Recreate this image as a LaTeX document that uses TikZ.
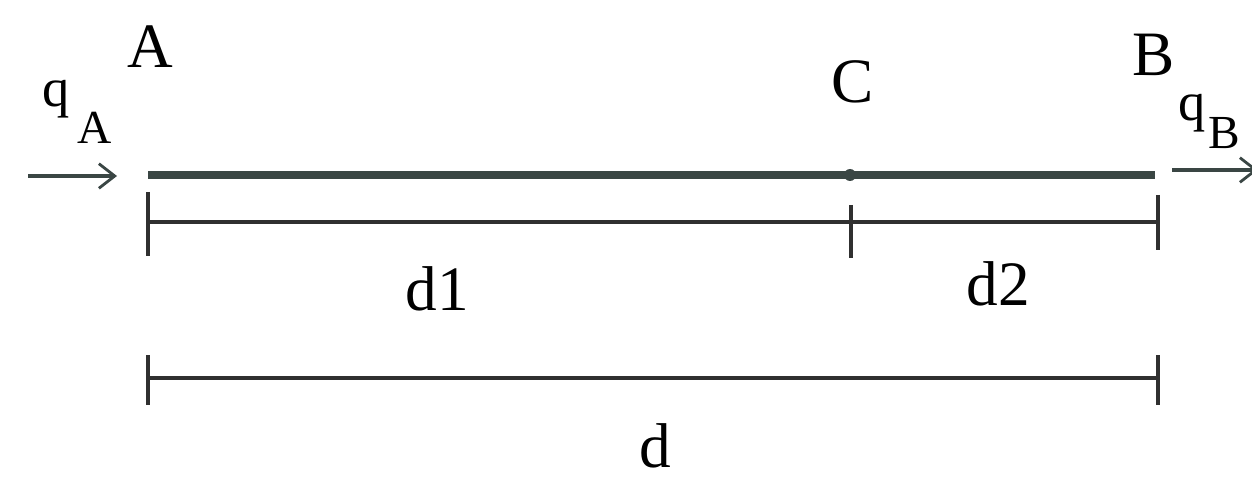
\documentclass[tikz,border=0pt]{standalone}
\usetikzlibrary{arrows.meta}
\usepackage{fontspec}
\setmainfont{Liberation Serif}
\definecolor{barcol}{HTML}{3A4644}
\definecolor{linecol}{HTML}{303030}
\begin{document}
\begin{tikzpicture}[x=0.02cm,y=-0.02cm,
  lbl/.style={font=\fontsize{36}{40}\selectfont, inner sep=0pt},
  qlbl/.style={font=\fontsize{31}{35}\selectfont, inner sep=0pt},
  sublbl/.style={font=\fontsize{27}{31}\selectfont, inner sep=0pt},
  bar/.style={line width=5pt, color=barcol},
  dim/.style={line width=1.8pt, color=linecol},
  tick/.style={line width=1.8pt, color=linecol},
  flow/.style={line width=1.8pt, color=barcol, -{Straight Barb[length=9pt,width=14pt,line width=1.6pt]}}]
\useasboundingbox (0,0) rectangle (1252,483);
% main bar
\coordinate (pA) at (148,175);
\coordinate (pC) at (850,175);
\coordinate (pB) at (1155,175);
\draw[bar] (pA) -- (pB);
\fill[barcol] (pC) circle (6);
% labels
\node[lbl] (A) at (150,47) {A};
\node[lbl] (C) at (853,82) {C};
\node[lbl] (B) at (1154,55) {B};
% flows
\coordinate (inS) at (28,176);
\coordinate (inE) at (117,176);
\draw[flow] (inS) -- (inE);
\node[qlbl] (qA) at (56,99) {q};
\node[sublbl] (qAs) at (95,128) {A};
\coordinate (outS) at (1172,170);
\coordinate (outE) at (1258,170);
\draw[flow] (outS) -- (outE);
\node[qlbl] (qB) at (1192,113) {q};
\node[sublbl] (qBs) at (1224,133) {B};
% dimension 1
\coordinate (t1a) at (148,192); \coordinate (t1b) at (148,256);
\coordinate (t2a) at (851,205); \coordinate (t2b) at (851,258);
\coordinate (t3a) at (1158,195); \coordinate (t3b) at (1158,250);
\coordinate (d1s) at (148,222); \coordinate (d1e) at (1158,222);
\draw[tick] (t1a) -- (t1b);
\draw[tick] (t2a) -- (t2b);
\draw[tick] (t3a) -- (t3b);
\draw[dim] (d1s) -- (d1e);
\node[lbl] (d1) at (437,289) {d1};
\node[lbl] (d2) at (998,284) {d2};
% dimension 2
\coordinate (u1a) at (148,355); \coordinate (u1b) at (148,405);
\coordinate (u2a) at (1158,355); \coordinate (u2b) at (1158,405);
\coordinate (d2s) at (148,378); \coordinate (d2e) at (1158,378);
\draw[tick] (u1a) -- (u1b);
\draw[tick] (u2a) -- (u2b);
\draw[dim] (d2s) -- (d2e);
\node[lbl] (d) at (655,446) {d};
\end{tikzpicture}
\end{document}
